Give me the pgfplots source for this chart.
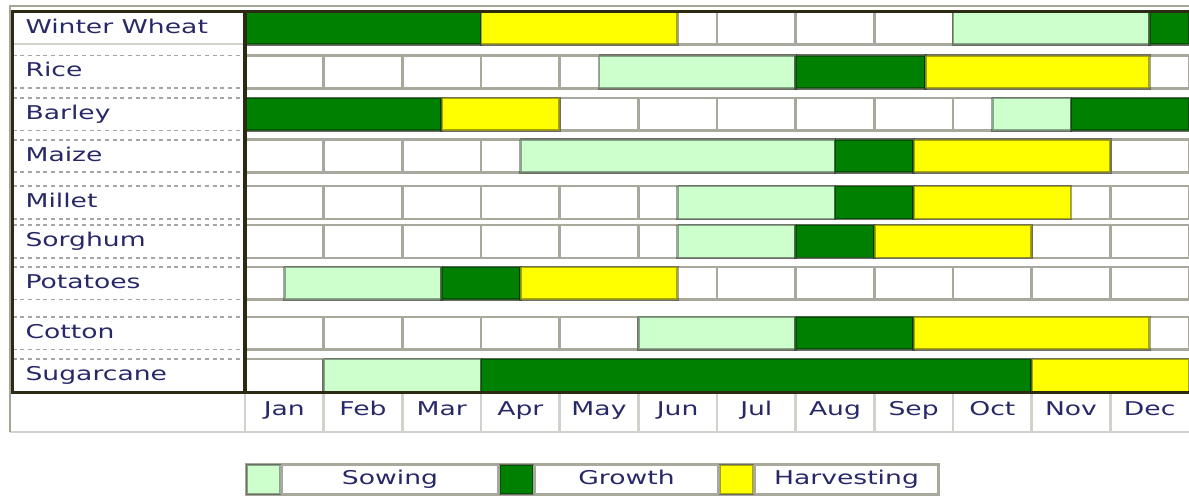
\documentclass[border=0pt]{standalone}
\usepackage{graphicx}
\usepackage{pgfplots}
\pgfplotsset{compat=1.18}
\usepackage{fontspec}
\setmainfont{DejaVu Sans}
\definecolor{sowc}{RGB}{204,255,204}
\definecolor{growc}{RGB}{0,128,0}
\definecolor{harvc}{RGB}{255,255,0}
\definecolor{cellgray}{RGB}{168,168,156}
\definecolor{framec}{RGB}{44,42,18}
\definecolor{lightg}{RGB}{210,210,204}
\definecolor{outerg}{RGB}{165,165,152}
\definecolor{dotg}{RGB}{165,165,165}
\definecolor{txt}{RGB}{40,40,104}
\begin{document}
\begin{tikzpicture}
\begin{axis}[
  scale only axis, width=594.5pt, height=248pt,
  xmin=-3.114, xmax=12, ymin=-10.86, ymax=0.65,
  axis line style={draw=none}, tick style={draw=none}, major tick length=0pt,
  ytick={-8.06,-7.08,-5.92,-4.95,-4.05,-2.97,-2.0,-1.02,0},
  yticklabels={Sugarcane,Cotton,Potatoes,Sorghum,Millet,Maize,Barley,Rice,Winter Wheat},
  yticklabel style={anchor=west, inner sep=0pt, xshift=12.5pt, xscale=1.4,
    text height=7pt, text depth=2pt,
    font=\fontsize{9.5}{11}\selectfont, text=txt},
  xtick={0.5,1.5,...,11.5},
  xticklabels={Jan,Feb,Mar,Apr,May,Jun,Jul,Aug,Sep,Oct,Nov,Dec},
  xticklabel style={anchor=center, inner sep=0pt, yshift=43pt, xscale=1.4,
    text height=7pt, text depth=2pt,
    font=\fontsize{9.5}{11}\selectfont, text=txt},
  legend columns=3,
  legend style={at={(axis description cs:0.2069,0.0333)}, anchor=west,
    draw=cellgray, line width=1pt, fill=white, inner sep=0pt, outer sep=0pt,
    row sep=0pt, column sep=0pt,
    nodes={inner sep=0pt, outer sep=0pt, draw=cellgray, line width=1pt,
      minimum height=14.5pt, text height=7pt, text depth=2pt,
      font=\fontsize{9.5}{11}\selectfont, text=txt, anchor=west}},
  legend image code/.code={\draw[#1, line width=1pt] (0pt,-7.25pt) rectangle (16.5pt,7.25pt);},
  seg/.style={draw=black, draw opacity=0.35, line width=1.2pt, unbounded coords=jump},
]
% white month cells of each row
\pgfplotsinvokeforeach{12,11,...,1}{
  \addplot[forget plot, xbar, bar width=0.76, bar shift=0pt, fill=white, draw=cellgray, line width=1.2pt]
    coordinates {(#1,0) (#1,-1.02) (#1,-2.0) (#1,-2.97) (#1,-4.05) (#1,-4.95) (#1,-5.92) (#1,-7.08) (#1,-8.06)};
}
% Sowing
\addplot[seg, fill=sowc] coordinates {
 (9,0.38) (11.5,0.38) (11.5,-0.38) (9,-0.38) (9,0.38) (nan,nan)
 (4.5,-0.64) (7,-0.64) (7,-1.40) (4.5,-1.40) (4.5,-0.64) (nan,nan)
 (9.5,-1.62) (10.5,-1.62) (10.5,-2.38) (9.5,-2.38) (9.5,-1.62) (nan,nan)
 (3.5,-2.59) (7.5,-2.59) (7.5,-3.35) (3.5,-3.35) (3.5,-2.59) (nan,nan)
 (5.5,-3.67) (7.5,-3.67) (7.5,-4.43) (5.5,-4.43) (5.5,-3.67) (nan,nan)
 (5.5,-4.57) (7,-4.57) (7,-5.33) (5.5,-5.33) (5.5,-4.57) (nan,nan)
 (0.5,-5.54) (2.5,-5.54) (2.5,-6.30) (0.5,-6.30) (0.5,-5.54) (nan,nan)
 (5,-6.70) (7,-6.70) (7,-7.46) (5,-7.46) (5,-6.70) (nan,nan)
 (1,-7.68) (3,-7.68) (3,-8.44) (1,-8.44) (1,-7.68)
};
\addlegendentry[minimum width=108pt]{\scalebox{1.4}[1]{Sowing}}
% Growth
\addplot[seg, fill=growc] coordinates {
 (0,0.38) (3,0.38) (3,-0.38) (0,-0.38) (0,0.38) (nan,nan)
 (11.5,0.38) (12,0.38) (12,-0.38) (11.5,-0.38) (11.5,0.38) (nan,nan)
 (7,-0.64) (8.65,-0.64) (8.65,-1.40) (7,-1.40) (7,-0.64) (nan,nan)
 (0,-1.62) (2.5,-1.62) (2.5,-2.38) (0,-2.38) (0,-1.62) (nan,nan)
 (10.5,-1.62) (12,-1.62) (12,-2.38) (10.5,-2.38) (10.5,-1.62) (nan,nan)
 (7.5,-2.59) (8.5,-2.59) (8.5,-3.35) (7.5,-3.35) (7.5,-2.59) (nan,nan)
 (7.5,-3.67) (8.5,-3.67) (8.5,-4.43) (7.5,-4.43) (7.5,-3.67) (nan,nan)
 (7,-4.57) (8,-4.57) (8,-5.33) (7,-5.33) (7,-4.57) (nan,nan)
 (2.5,-5.54) (3.5,-5.54) (3.5,-6.30) (2.5,-6.30) (2.5,-5.54) (nan,nan)
 (7,-6.70) (8.5,-6.70) (8.5,-7.46) (7,-7.46) (7,-6.70) (nan,nan)
 (3,-7.68) (10,-7.68) (10,-8.44) (3,-8.44) (3,-7.68)
};
\addlegendentry[minimum width=91.5pt]{\scalebox{1.4}[1]{Growth}}
% Harvesting
\addplot[seg, fill=harvc] coordinates {
 (3,0.38) (5.5,0.38) (5.5,-0.38) (3,-0.38) (3,0.38) (nan,nan)
 (8.65,-0.64) (11.5,-0.64) (11.5,-1.40) (8.65,-1.40) (8.65,-0.64) (nan,nan)
 (2.5,-1.62) (4,-1.62) (4,-2.38) (2.5,-2.38) (2.5,-1.62) (nan,nan)
 (8.5,-2.59) (11,-2.59) (11,-3.35) (8.5,-3.35) (8.5,-2.59) (nan,nan)
 (8.5,-3.67) (10.5,-3.67) (10.5,-4.43) (8.5,-4.43) (8.5,-3.67) (nan,nan)
 (8,-4.57) (10,-4.57) (10,-5.33) (8,-5.33) (8,-4.57) (nan,nan)
 (3.5,-5.54) (5.5,-5.54) (5.5,-6.30) (3.5,-6.30) (3.5,-5.54) (nan,nan)
 (8.5,-6.70) (11.5,-6.70) (11.5,-7.46) (8.5,-7.46) (8.5,-6.70) (nan,nan)
 (10,-7.68) (12,-7.68) (12,-8.44) (10,-8.44) (10,-7.68)
};
\addlegendentry[minimum width=91.5pt]{\scalebox{1.4}[1]{Harvesting}}
% label column separators
\draw[lightg, line width=1pt] (-2.955,-0.38) -- (0,-0.38);
\draw[dotg, line width=0.9pt, dash pattern=on 2pt off 1.85pt]
  (-2.955,-0.64) -- (0,-0.64) (-2.955,-1.40) -- (0,-1.40)
  (-2.955,-1.62) -- (0,-1.62) (-2.955,-2.38) -- (0,-2.38)
  (-2.955,-2.59) -- (0,-2.59) (-2.955,-3.35) -- (0,-3.35)
  (-2.955,-3.67) -- (0,-3.67) (-2.955,-4.43) -- (0,-4.43)
  (-2.955,-4.57) -- (0,-4.57) (-2.955,-5.33) -- (0,-5.33)
  (-2.955,-5.54) -- (0,-5.54) (-2.955,-6.30) -- (0,-6.30)
  (-2.955,-6.70) -- (0,-6.70) (-2.955,-7.46) -- (0,-7.46)
  (-2.955,-7.68) -- (0,-7.68);
% month row
\draw[lightg, line width=1.3pt] (0,-8.44) -- (0,-9.374) (1,-8.44) -- (1,-9.374)
  (2,-8.44) -- (2,-9.374) (3,-8.44) -- (3,-9.374) (4,-8.44) -- (4,-9.374)
  (5,-8.44) -- (5,-9.374) (6,-8.44) -- (6,-9.374) (7,-8.44) -- (7,-9.374)
  (8,-8.44) -- (8,-9.374) (9,-8.44) -- (9,-9.374) (10,-8.44) -- (10,-9.374)
  (11,-8.44) -- (11,-9.374);
\draw[lightg, line width=1.3pt] (-2.987,-9.374) -- (12,-9.374);
% outer border
\draw[outerg, line width=1pt] (-2.987,-9.374) -- (-2.987,0.50) -- (12,0.50);
% dark frame
\draw[framec, line width=1.6pt] (12.2,0.39) -- (-2.955,0.39) -- (-2.955,-8.46) -- (12.2,-8.46);
\draw[framec, line width=1.6pt] (0,0.39) -- (0,-8.46);
\end{axis}
\end{tikzpicture}
\end{document}
